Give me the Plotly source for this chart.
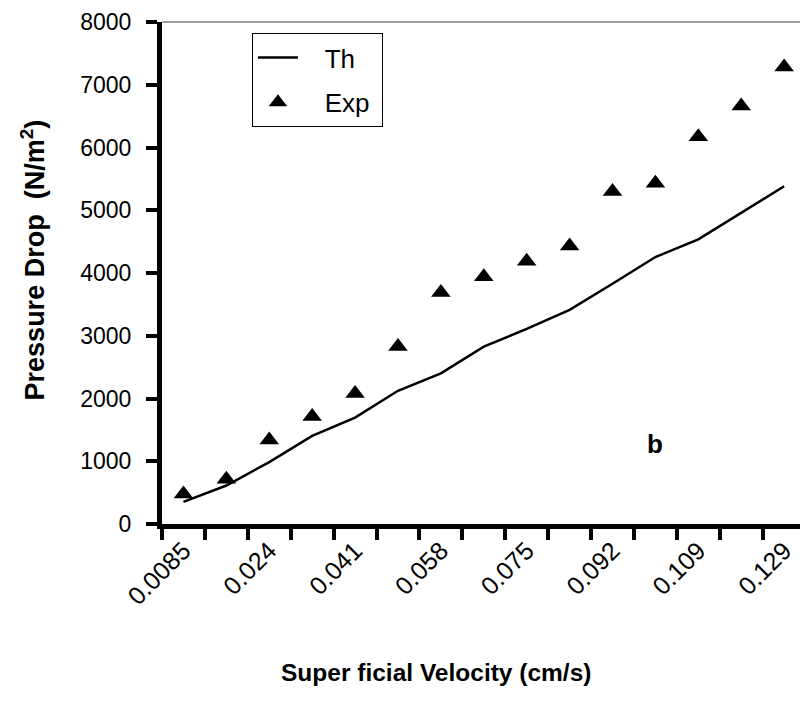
import plotly.graph_objects as go

categories = ["0.0085", "0.016", "0.024", "0.032", "0.041", "0.049", "0.058", "0.066",
              "0.075", "0.083", "0.092", "0.100", "0.109", "0.119", "0.129"]
th_values = [352, 613, 987, 1403, 1696, 2123, 2400, 2827, 3109, 3413, 3829, 4255, 4537, 4957, 5383]
exp_values = [480, 715, 1339, 1712, 2080, 2827, 3691, 3941, 4187, 4431, 5298, 5431, 6170, 6660, 7282]
tick_labels = categories[::2]
x_title = "Super ficial Velocity (cm/s)"
y_title = "Pressure Drop  (N/m<sup>2</sup>)"

idx = list(range(len(categories)))
FONT = "Liberation Sans, Arial, sans-serif"

fig = go.Figure()
fig.add_trace(go.Scatter(x=idx, y=th_values, mode="lines", name="&nbsp;&nbsp;&nbsp;Th",
                         line=dict(color="black", width=2.5), legendgroup="a"))
fig.add_trace(go.Scatter(x=idx, y=exp_values, mode="markers", name="&nbsp;&nbsp;&nbsp;Exp&nbsp;",
                         marker=dict(symbol="triangle-up", size=17, color="black"),
                         legendgroup="b"))

fig.add_annotation(x=11, y=1275, text="<b>b</b>", showarrow=False,
                   font=dict(family=FONT, size=26, color="black"))
fig.add_annotation(xref="paper", yref="paper", x=0.429, y=-0.295, xanchor="center", yanchor="middle",
                   text="<b>" + x_title + "</b>", showarrow=False,
                   font=dict(family=FONT, size=24.5, color="black"))
fig.add_annotation(xref="paper", yref="paper", x=-0.203, y=0.526, xanchor="center", yanchor="middle",
                   text="<b>" + y_title + "</b>", showarrow=False, textangle=-90,
                   font=dict(family=FONT, size=27, color="black"))

fig.add_shape(type="line", xref="paper", yref="paper", x0=0, x1=1, y0=1, y1=1,
              line=dict(color="#808080", width=1.5))

fig.update_layout(
    width=800, height=704,
    margin=dict(l=162, r=0, t=22, b=180),
    paper_bgcolor="white", plot_bgcolor="white",
    font=dict(family=FONT, size=23, color="black"),
    showlegend=True,
    legend=dict(x=0.141, y=0.978, xanchor="left", yanchor="top",
                bordercolor="black", borderwidth=1, bgcolor="white",
                font=dict(size=26), tracegroupgap=8, traceorder="grouped",
                itemwidth=40),
    xaxis=dict(range=[-0.5, 14.37], tickmode="array", tickvals=idx[::2], ticktext=tick_labels,
               tickangle=-45, ticks="", showgrid=False, zeroline=False,
               showline=True, linecolor="black", linewidth=5,
               minor=dict(tick0=-0.5, dtick=1, ticks="outside", ticklen=11, tickwidth=4,
                          tickcolor="black", showgrid=False),
               tickfont=dict(size=25), ticklabelstandoff=-3),
    yaxis=dict(range=[0, 8000], dtick=1000, ticks="outside", ticklen=11, tickwidth=4,
               tickcolor="black", showgrid=False, zeroline=False,
               showline=True, linecolor="black", linewidth=5,
               tickfont=dict(size=23), ticklabelstandoff=10),
)

fig.write_html("out.html")
